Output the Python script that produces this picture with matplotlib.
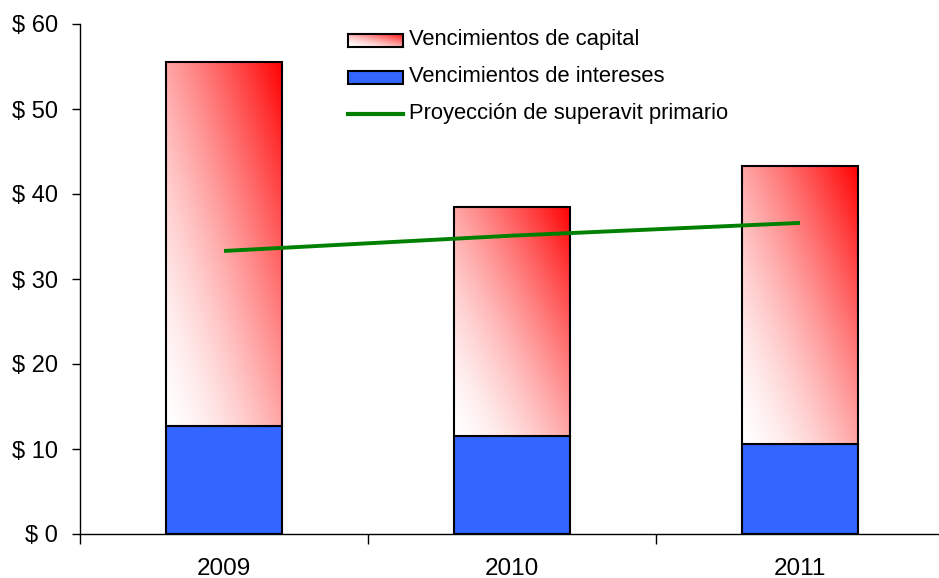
import numpy as np
import matplotlib
matplotlib.use("Agg")
import matplotlib.pyplot as plt
from matplotlib.patches import Rectangle
from matplotlib.lines import Line2D

# Data (billions of pesos)
years = ["2009", "2010", "2011"]
interest = [12.7, 11.5, 10.6]
capital = [42.8, 27.0, 32.7]
surplus = [33.3, 35.1, 36.6]

label_capital = "Vencimientos de capital"
label_interest = "Vencimientos de intereses"
label_surplus = "Proyección de superavit primario"
ytick_vals = [0, 10, 20, 30, 40, 50, 60]
ytick_labels = ["$ 0", "$ 10", "$ 20", "$ 30", "$ 40", "$ 50", "$ 60"]

plt.rcParams["font.family"] = ["Liberation Sans", "DejaVu Sans"]

W, H = 939, 578
fig = plt.figure(figsize=(W / 100, H / 100), dpi=100)
ax = fig.add_axes([80 / W, 44 / H, 864 / W, 510 / H])

BLUE = "#3366FF"
GREEN = "#008000"
bar_w = 0.406


def gradient_image(n=200):
    u = np.linspace(0, 1, n)[None, :]
    v = np.linspace(0, 1, n)[:, None]
    t = ((u + v) / 2.0) ** 1.5
    img = np.ones((n, n, 3))
    img[..., 1] = 1 - t
    img[..., 2] = 1 - t
    return img


grad = gradient_image()
x = np.arange(len(years))

ax.bar(x, interest, width=bar_w, color=BLUE, edgecolor="black", linewidth=1.5, zorder=2)
for xi, base, h in zip(x, interest, capital):
    rect = Rectangle((xi - bar_w / 2, base), bar_w, h, facecolor="none",
                     edgecolor="black", linewidth=1.5, zorder=3)
    ax.add_patch(rect)
    im = ax.imshow(grad, extent=[xi - bar_w / 2, xi + bar_w / 2, base, base + h],
                   origin="lower", aspect="auto", zorder=2, interpolation="bilinear")
    im.set_clip_path(rect)

ax.plot(x, surplus, color=GREEN, linewidth=2.8, zorder=4, solid_capstyle="butt")

ax.set_xlim(-0.5, len(years) - 0.5)
ax.set_ylim(0, 60)

for s in ["top", "right"]:
    ax.spines[s].set_visible(False)
ax.spines["left"].set_linewidth(1.0)
ax.spines["bottom"].set_linewidth(1.0)

ax.set_yticks(ytick_vals)
ax.set_yticklabels(ytick_labels, fontsize=17)
ax.tick_params(axis="y", direction="out", length=6, width=1, pad=10)

ax.set_xticks(x)
ax.set_xticklabels(years, fontsize=17.5)
ax.set_xticks(np.arange(len(years) + 1) - 0.5, minor=True)
ax.tick_params(axis="x", which="major", length=0, pad=17)
ax.tick_params(axis="x", which="minor", direction="out", length=7, width=1)

# Legend, drawn in figure pixel space
def fx(px):
    return px / W


def fy(py):
    return 1 - py / H


sw_x0, sw_x1 = 348, 403
rows = [40, 77, 114]
sw_h = 13

gax = fig.add_axes([fx(sw_x0), fy(rows[0] + sw_h / 2), fx(sw_x1) - fx(sw_x0), sw_h / H])
gax.imshow(grad, origin="lower", aspect="auto", extent=[0, 1, 0, 1])
gax.set_xticks([])
gax.set_yticks([])
for sp in gax.spines.values():
    sp.set_linewidth(1.5)

fig.patches.append(Rectangle((fx(sw_x0), fy(rows[1] + sw_h / 2)), fx(sw_x1) - fx(sw_x0), sw_h / H,
                             transform=fig.transFigure, facecolor=BLUE, edgecolor="black",
                             linewidth=1.5))
fig.lines.append(Line2D([fx(sw_x0), fx(sw_x1)], [fy(rows[2]), fy(rows[2])],
                        transform=fig.transFigure, color=GREEN, linewidth=3.0))

for r, lab in zip(rows, [label_capital, label_interest, label_surplus]):
    fig.text(fx(409), fy(r), lab, fontsize=15.8, va="center", ha="left")

fig.savefig("out.png", dpi=100)
